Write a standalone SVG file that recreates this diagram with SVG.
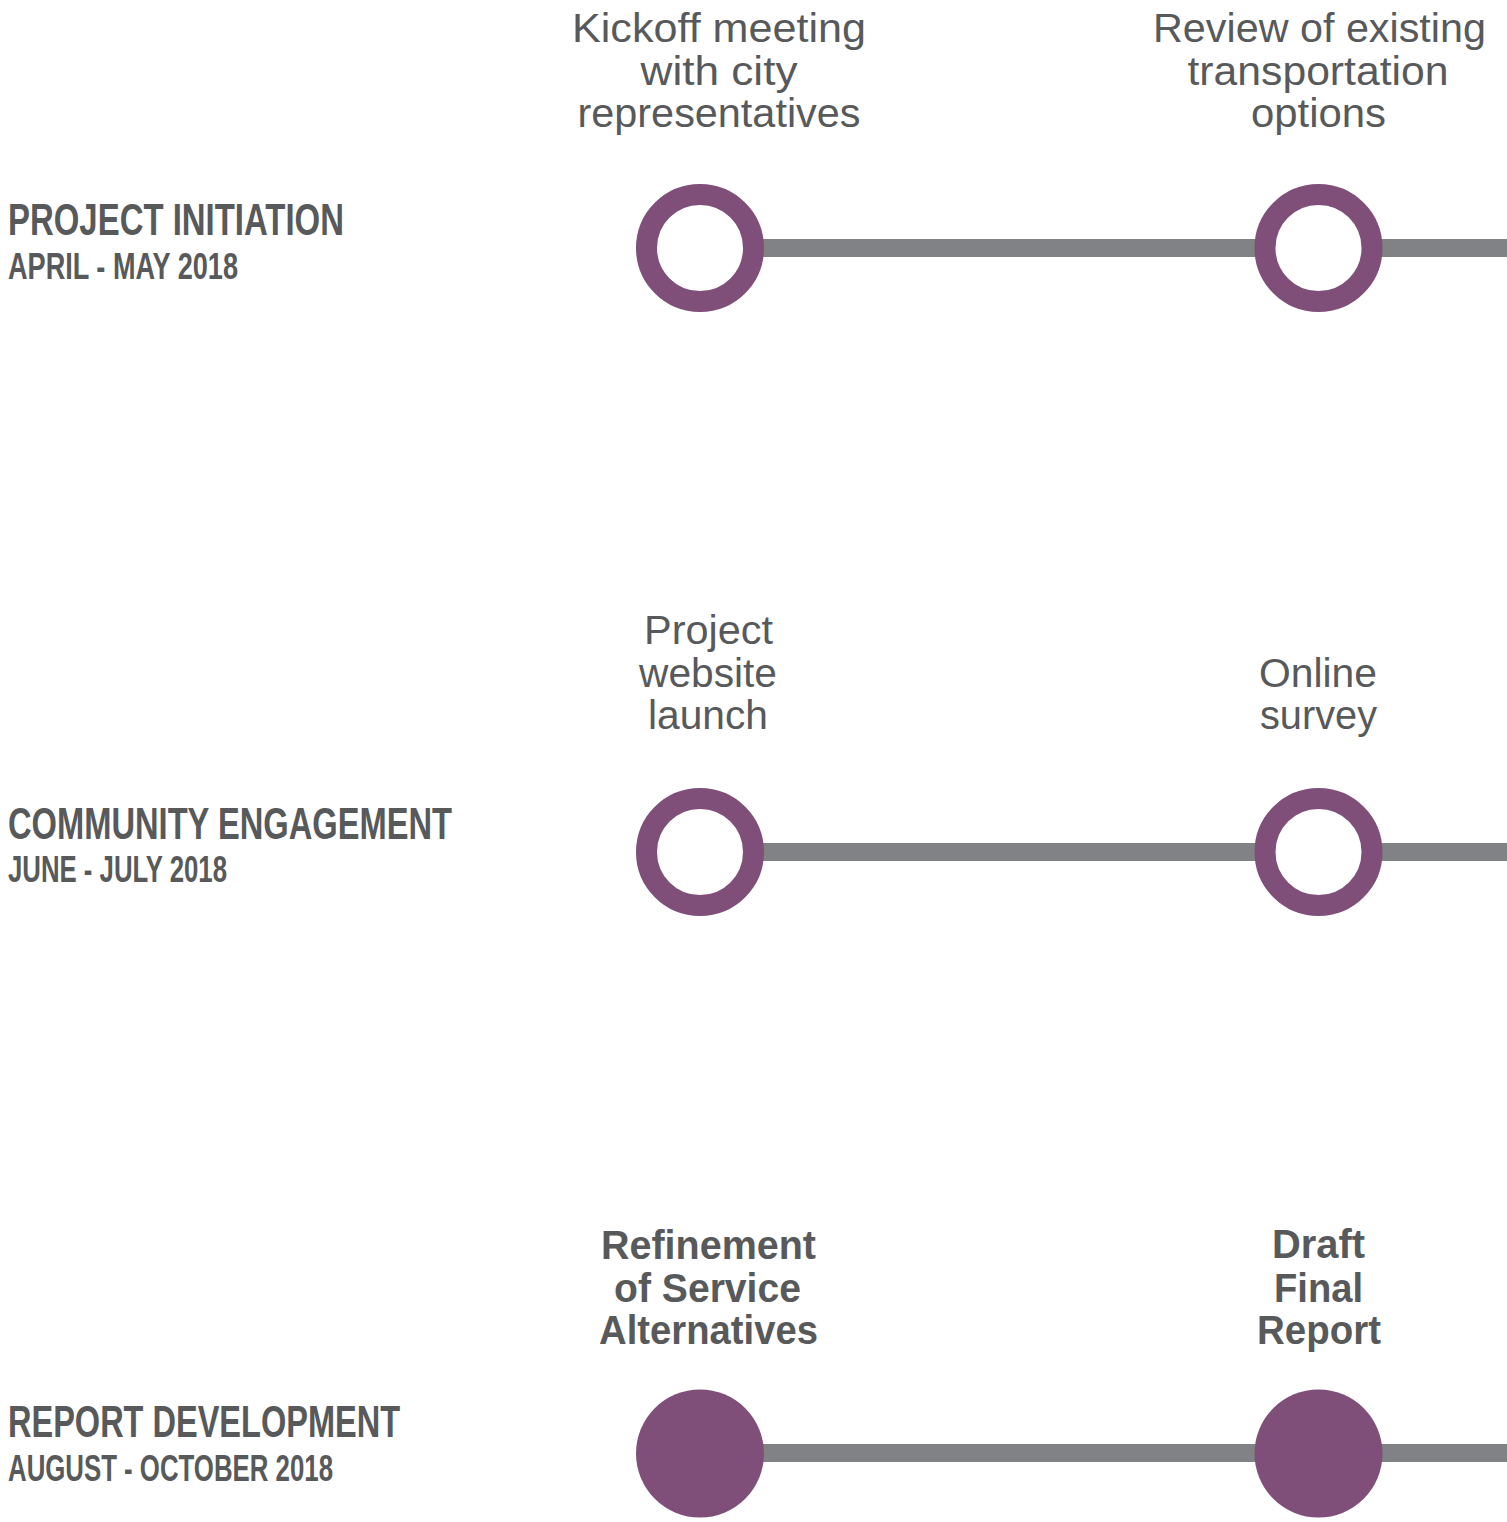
<svg xmlns="http://www.w3.org/2000/svg" width="1507" height="1522" viewBox="0 0 1507 1522">
<style>
.hd{font-family:"Liberation Sans Narrow","Liberation Sans",Arial,sans-serif;font-weight:bold;fill:#58595b}
.h1{font-size:45px}
.h2{font-size:37px}
.lb{font-family:"Liberation Sans",Arial,sans-serif;font-size:40px;fill:#58595b;text-anchor:middle}
.bd{font-weight:bold}
.ring{fill:#ffffff;stroke:#7f4f7a;stroke-width:21}
.dot{fill:#7f4f7a}
.conn{stroke:#808285;stroke-width:18;fill:none}
</style>
<rect width="1507" height="1522" fill="#ffffff"/>
<g id="phases">
<g id="phase-initiation">
<text class="hd h1" x="8" y="235" textLength="336" lengthAdjust="spacingAndGlyphs">PROJECT INITIATION</text>
<text class="hd h2" x="8" y="279" textLength="230" lengthAdjust="spacingAndGlyphs">APRIL - MAY 2018</text>
</g>
<g id="phase-engagement">
<text class="hd h1" x="8" y="839" textLength="444" lengthAdjust="spacingAndGlyphs">COMMUNITY ENGAGEMENT</text>
<text class="hd h2" x="8" y="882" textLength="219" lengthAdjust="spacingAndGlyphs">JUNE - JULY 2018</text>
</g>
<g id="phase-report">
<text class="hd h1" x="8" y="1437" textLength="392" lengthAdjust="spacingAndGlyphs">REPORT DEVELOPMENT</text>
<text class="hd h2" x="8" y="1481" textLength="325" lengthAdjust="spacingAndGlyphs">AUGUST - OCTOBER 2018</text>
</g>
</g>
<g id="connectors">
<line class="conn" x1="700" y1="248" x2="1507" y2="248"/>
<line class="conn" x1="700" y1="852" x2="1507" y2="852"/>
<line class="conn" x1="700" y1="1453" x2="1507" y2="1453"/>
</g>
<g id="node-kickoff">
<circle class="ring" cx="700" cy="248" r="53.5"/>
<text class="lb" x="719" y="42" textLength="294" lengthAdjust="spacingAndGlyphs">Kickoff meeting</text>
<text class="lb" x="719" y="85" textLength="157" lengthAdjust="spacingAndGlyphs">with city</text>
<text class="lb" x="719" y="127" textLength="283" lengthAdjust="spacingAndGlyphs">representatives</text>
</g>
<g id="node-review">
<circle class="ring" cx="1318.5" cy="248" r="53.5"/>
<text class="lb" x="1319.5" y="42" textLength="333" lengthAdjust="spacingAndGlyphs">Review of existing</text>
<text class="lb" x="1318" y="85" textLength="261" lengthAdjust="spacingAndGlyphs">transportation</text>
<text class="lb" x="1318.5" y="127" textLength="135" lengthAdjust="spacingAndGlyphs">options</text>
</g>
<g id="node-website">
<circle class="ring" cx="700" cy="852" r="53.5"/>
<text class="lb" x="708.5" y="644" textLength="129" lengthAdjust="spacingAndGlyphs">Project</text>
<text class="lb" x="708" y="687" textLength="138" lengthAdjust="spacingAndGlyphs">website</text>
<text class="lb" x="708" y="729" textLength="120" lengthAdjust="spacingAndGlyphs">launch</text>
</g>
<g id="node-survey">
<circle class="ring" cx="1318.5" cy="852" r="53.5"/>
<text class="lb" x="1318" y="687" textLength="118" lengthAdjust="spacingAndGlyphs">Online</text>
<text class="lb" x="1318.5" y="729" textLength="117" lengthAdjust="spacingAndGlyphs">survey</text>
</g>
<g id="node-refinement">
<circle class="dot" cx="700" cy="1453.5" r="64"/>
<text class="lb bd" x="708.5" y="1259" textLength="215" lengthAdjust="spacingAndGlyphs">Refinement</text>
<text class="lb bd" x="707.5" y="1302" textLength="187" lengthAdjust="spacingAndGlyphs">of Service</text>
<text class="lb bd" x="708.5" y="1344" textLength="219" lengthAdjust="spacingAndGlyphs">Alternatives</text>
</g>
<g id="node-draft">
<circle class="dot" cx="1318.5" cy="1453.5" r="64"/>
<text class="lb bd" x="1318.5" y="1258" textLength="93" lengthAdjust="spacingAndGlyphs">Draft</text>
<text class="lb bd" x="1318.5" y="1302" textLength="89" lengthAdjust="spacingAndGlyphs">Final</text>
<text class="lb bd" x="1319" y="1344" textLength="124" lengthAdjust="spacingAndGlyphs">Report</text>
</g>
</svg>
